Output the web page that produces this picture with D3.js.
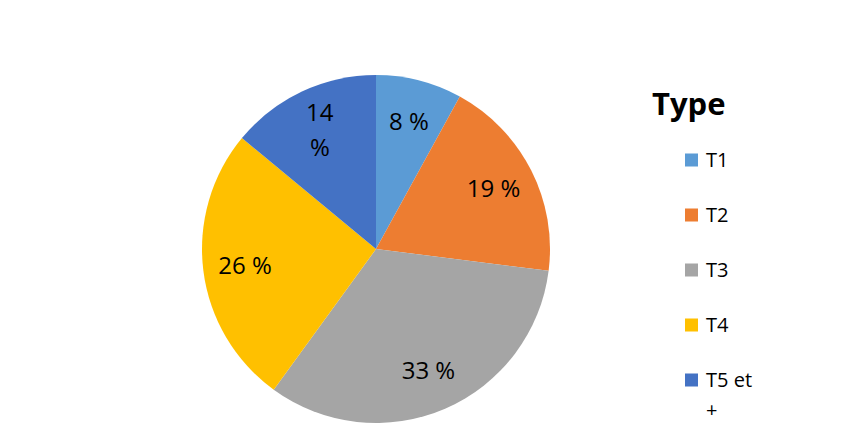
<!DOCTYPE html>
<html><head><meta charset="utf-8">
<script src="https://cdn.jsdelivr.net/npm/d3@7"></script>
<style>body{margin:0;background:#fff}svg{display:block}</style>
</head><body>
<svg id="c" width="854" height="443"></svg>
<script>
const categories = ["T1", "T2", "T3", "T4", "T5 et +"];
const values = [8, 19, 33, 26, 14];
const labels = ["8 %", "19 %", "33 %", "26 %", "14 %"];
const colors = ["#5B9BD5", "#ED7D31", "#A5A5A5", "#FFC000", "#4472C4"];
const legendTitle = "Type";

const svg = d3.select("#c");
const cx = 376, cy = 249, R = 174;
const font = "'Open Sans', sans-serif";

const pie = d3.pie().sort(null).value(d => d)(values);
const arc = d3.arc().innerRadius(0).outerRadius(R);
const labelArc = d3.arc().innerRadius(132).outerRadius(132);

const g = svg.append("g").attr("transform", `translate(${cx},${cy})`);
g.selectAll("path").data(pie).join("path")
  .attr("d", arc).attr("fill", (d, i) => colors[i]);

const lab = g.selectAll("text.lab").data(pie).join("text")
  .attr("class", "lab")
  .attr("font-family", font).attr("font-size", 24).attr("fill", "#000")
  .attr("text-anchor", "middle")
  .attr("transform", d => `translate(${labelArc.centroid(d)})`);
lab.each(function(d, i) {
  const t = d3.select(this);
  const txt = labels[i];
  if (i === 4) {
    const parts = txt.split(" ");
    t.append("tspan").attr("x", 0).attr("dy", "-0.35em").text(parts[0]);
    t.append("tspan").attr("x", 0).attr("dy", "1.45em").text(parts[1]);
  } else {
    t.append("tspan").attr("x", 0).attr("dy", "0.35em").text(txt);
  }
});

// Legend
svg.append("text").attr("x", 652).attr("y", 115)
  .attr("font-family", font).attr("font-weight", "bold").attr("font-size", 31)
  .attr("fill", "#000").text(legendTitle);

const y = d3.scalePoint().domain(categories).range([160, 380]);
const lg = svg.selectAll("g.leg").data(categories).join("g")
  .attr("class", "leg").attr("transform", d => `translate(685,${y(d)})`);
lg.append("rect").attr("x", 0).attr("y", -6.5).attr("width", 13).attr("height", 13)
  .attr("fill", (d, i) => colors[i]);
lg.each(function(d) {
  const t = d3.select(this).append("text").attr("x", 21).attr("y", 7)
    .attr("font-family", font).attr("font-size", 20).attr("fill", "#000");
  if (d === "T5 et +") {
    t.append("tspan").attr("x", 21).text("T5 et");
    t.append("tspan").attr("x", 21).attr("dy", 30).text("+");
  } else t.text(d);
});
</script>
</body></html>
